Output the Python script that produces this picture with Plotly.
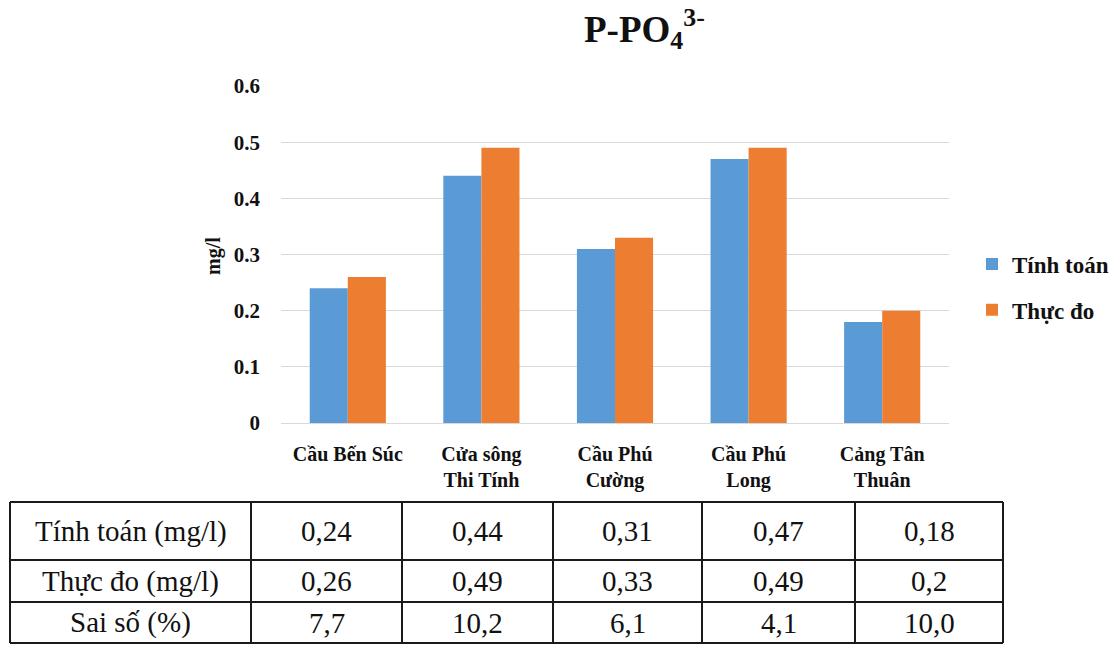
import plotly.graph_objects as go

# Sampling sites and measured / computed phosphate concentrations
sites = ["Cầu Bến Súc", "Cửa sông<br>Thi Tính", "Cầu Phú<br>Cường", "Cầu Phú<br>Long", "Cảng Tân<br>Thuân"]
tinh_toan = [0.24, 0.44, 0.31, 0.47, 0.18]
thuc_do = [0.26, 0.49, 0.33, 0.49, 0.20]
sai_so = [7.7, 10.2, 6.1, 4.1, 10.0]
y_ticks = [0, 0.1, 0.2, 0.3, 0.4, 0.5, 0.6]

row_labels = ["Tính toán (mg/l)", "Thực đo (mg/l)", "Sai số (%)"]

W, H = 1117, 646
SERIF = "Liberation Serif, Times New Roman, serif"
BLUE = "#5B9BD5"
ORANGE = "#ED7D31"
GRID = "#D9D9D9"
INK = "#111111"

# Table grid (pixel positions of the ruling lines)
col_edges = [10, 251, 402, 553, 702, 855, 1003]
row_edges = [502, 560, 602, 643]


def vn(v):
    """Format a number with a decimal comma."""
    return str(v).replace(".", ",")


def px_x(x):
    return x / W


def px_y(y):
    return 1 - y / H


fig = go.Figure()

fig.add_trace(go.Bar(
    x=sites, y=tinh_toan, name="Tính toán",
    marker=dict(color=BLUE, line=dict(width=0)), legendgroup="a",
))
fig.add_trace(go.Bar(
    x=sites, y=thuc_do, name="Thực đo",
    marker=dict(color=ORANGE, line=dict(width=0)), legendgroup="b",
))

# Data table under the chart
table_rows = [
    [row_labels[0]] + [vn(v) for v in tinh_toan],
    [row_labels[1]] + [vn(v) for v in thuc_do],
    [row_labels[2]] + [vn(v) for v in sai_so],
]

shapes = []
for x in col_edges:
    shapes.append(dict(type="line", xref="paper", yref="paper",
                       x0=px_x(x), x1=px_x(x), y0=px_y(row_edges[0]), y1=px_y(row_edges[-1]),
                       line=dict(color="#1a1a1a", width=2)))
for y in row_edges:
    shapes.append(dict(type="line", xref="paper", yref="paper",
                       x0=px_x(col_edges[0]), x1=px_x(col_edges[-1]), y0=px_y(y), y1=px_y(y),
                       line=dict(color="#1a1a1a", width=2)))

annotations = []
for r, row in enumerate(table_rows):
    yc = (row_edges[r] + row_edges[r + 1]) / 2
    for c, txt in enumerate(row):
        xc = (col_edges[c] + col_edges[c + 1]) / 2
        annotations.append(dict(
            text=txt, x=px_x(xc), y=px_y(yc), xref="paper", yref="paper",
            xanchor="center", yanchor="middle", showarrow=False,
            font=dict(family=SERIF, size=29, color=INK),
        ))

annotations.append(dict(
    text="<b>P-PO<sub>4</sub><sup>3-</sup></b>",
    x=px_x(644), y=px_y(29), xref="paper", yref="paper",
    xanchor="center", yanchor="middle", showarrow=False,
    font=dict(family=SERIF, size=37, color=INK),
))
annotations.append(dict(
    text="<b>mg/l</b>",
    x=px_x(213), y=px_y(256), xref="paper", yref="paper",
    xanchor="center", yanchor="middle", showarrow=False, textangle=-90,
    font=dict(family=SERIF, size=20, color=INK),
))

fig.update_layout(
    width=W, height=H,
    margin=dict(l=0, r=0, t=0, b=0, pad=0, autoexpand=False),
    paper_bgcolor="white", plot_bgcolor="white",
    barmode="group", bargap=0.43, bargroupgap=0,
    showlegend=True,
    legend=dict(
        x=px_x(972), y=px_y(287), xanchor="left", yanchor="middle",
        font=dict(family=SERIF, size=23, color=INK, weight="bold"),
        tracegroupgap=13, itemwidth=30,
        bgcolor="rgba(0,0,0,0)",
    ),
    xaxis=dict(
        domain=[px_x(281), px_x(949)],
        showgrid=False, showline=True, linecolor=GRID, linewidth=1,
        ticks="", ticklabelstandoff=13, automargin=False,
        tickfont=dict(family=SERIF, size=20, color=INK, weight="bold"),
    ),
    yaxis=dict(
        domain=[px_y(423), px_y(86)],
        range=[0, 0.6], tickvals=y_ticks, ticktext=[f"{v:g}" for v in y_ticks],
        showgrid=True, gridcolor=GRID, gridwidth=1,
        zeroline=True, zerolinecolor=GRID, zerolinewidth=1,
        ticks="", ticklabelstandoff=20, automargin=False,
        tickfont=dict(family=SERIF, size=21, color=INK, weight="bold"),
    ),
    shapes=shapes,
    annotations=annotations,
)

fig.write_html("out.html")
